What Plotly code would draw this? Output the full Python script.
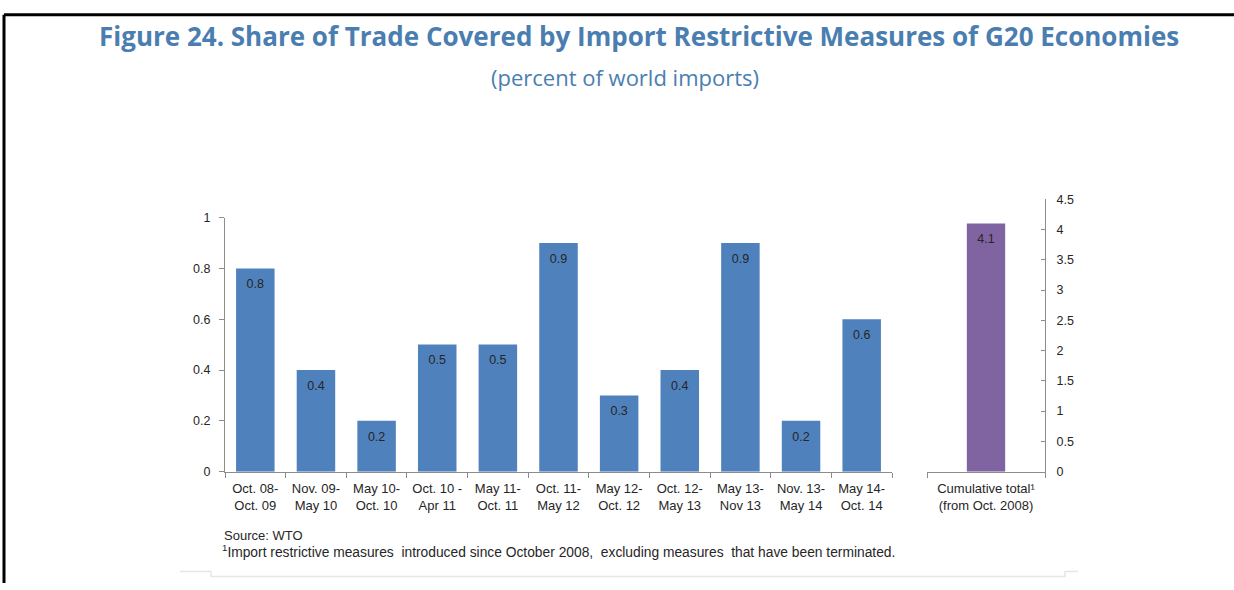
import plotly.graph_objects as go

W, H = 1234, 590

periods = ["Oct. 08-<br>Oct. 09", "Nov. 09-<br>May 10", "May 10-<br>Oct. 10", "Oct. 10 -<br>Apr 11",
           "May 11-<br>Oct. 11", "Oct. 11-<br>May 12", "May 12-<br>Oct. 12", "Oct. 12-<br>May 13",
           "May 13-<br>Nov 13", "Nov. 13-<br>May 14", "May 14-<br>Oct. 14"]
shares = [0.8, 0.4, 0.2, 0.5, 0.5, 0.9, 0.3, 0.4, 0.9, 0.2, 0.6]
cum_label = ["Cumulative total¹<br>(from Oct. 2008)"]
cum_value = [4.1]
left_ticks = [0, 0.2, 0.4, 0.6, 0.8, 1]
right_ticks = [0, 0.5, 1, 1.5, 2, 2.5, 3, 3.5, 4, 4.5]

def px(x):
    return x / W

def py(y):
    # compensate the slight vertical squeeze seen in the photographed page
    return 1 - ((y - 5.3) / 0.98) / H

BLUE = "#4f81bd"
PURPLE = "#8064a2"
TITLE = "#4a7eb0"
AX = "#8c8c8c"
TXT = "#262626"
FONT = "Liberation Sans, Arial, sans-serif"

fig = go.Figure()
fig.add_trace(go.Bar(
    x=periods, y=shares, marker=dict(color=BLUE, line=dict(width=0)), width=0.635,
    xaxis="x", yaxis="y", hoverinfo="x+y", showlegend=False))
fig.add_trace(go.Bar(
    x=cum_label, y=cum_value, marker=dict(color=PURPLE, line=dict(width=0)), width=0.325,
    xaxis="x2", yaxis="y2", hoverinfo="x+y", showlegend=False))
# value labels just below the top of each bar
fig.add_trace(go.Scatter(
    x=periods, y=shares, mode="markers+text", marker=dict(size=15, opacity=0),
    text=[f"{v:.1f}" for v in shares], textposition="bottom center",
    textfont=dict(family=FONT, size=12.5, color=TXT), xaxis="x", yaxis="y",
    hoverinfo="skip", showlegend=False, cliponaxis=False))
fig.add_trace(go.Scatter(
    x=cum_label, y=cum_value, mode="markers+text", marker=dict(size=15, opacity=0),
    text=[f"{v:.1f}" for v in cum_value], textposition="bottom center",
    textfont=dict(family=FONT, size=12.5, color=TXT), xaxis="x2", yaxis="y2",
    hoverinfo="skip", showlegend=False, cliponaxis=False))

ydom = [py(471.7), py(216.7)]
ydom2 = [py(471.7), py(198.3)]

common_x = dict(showline=True, linecolor=AX, linewidth=1, ticks="outside", tickson="boundaries",
                ticklen=5, tickcolor=AX, tickfont=dict(family=FONT, size=13, color=TXT),
                ticklabelstandoff=5,
                showgrid=False, zeroline=False, fixedrange=True, tickangle=0)

fig.update_layout(
    width=W, height=H, margin=dict(l=0, r=0, t=0, b=0),
    paper_bgcolor="white", plot_bgcolor="white",
    xaxis=dict(domain=[px(225), px(892)], anchor="y", range=[-0.5, len(periods) - 0.5], **common_x),
    xaxis2=dict(domain=[px(927), px(1045)], anchor="y2", range=[-0.5, 0.5], **common_x),
    yaxis=dict(domain=ydom, anchor="x", range=[0, 1], tickvals=left_ticks,
               ticktext=[f"{v:g}" for v in left_ticks],
               showline=True, linecolor=AX, linewidth=1, ticks="outside", ticklen=5, tickcolor=AX,
               ticklabelstandoff=6,
               tickfont=dict(family=FONT, size=12.5, color=TXT), showgrid=False, zeroline=False,
               fixedrange=True),
    yaxis2=dict(domain=ydom2, anchor="x2", side="right", range=[0, 4.5], tickvals=right_ticks,
                ticktext=[f"{v:g}" for v in right_ticks],
                showline=True, linecolor=AX, linewidth=1, ticks="inside", ticklen=4, tickcolor=AX,
                ticklabelstandoff=8,
                tickfont=dict(family=FONT, size=12.5, color=TXT), showgrid=False, zeroline=False,
                fixedrange=True),
)

fig.add_annotation(text="<b>Figure 24. Share of Trade Covered by Import Restrictive Measures of G20 Economies</b>",
                   x=px(639), y=py(34.6), xref="paper", yref="paper", showarrow=False,
                   xanchor="center", yanchor="middle",
                   font=dict(family="Open Sans, Noto Sans, sans-serif", size=26, color=TITLE))
fig.add_annotation(text="(percent of world imports)",
                   x=px(625), y=py(75.7), xref="paper", yref="paper", showarrow=False,
                   xanchor="center", yanchor="middle",
                   font=dict(family="Open Sans, Noto Sans, sans-serif", size=22, color=TITLE))
fig.add_annotation(text="Source: WTO", x=px(222), y=py(536), xref="paper", yref="paper",
                   showarrow=False, xanchor="left", yanchor="middle",
                   font=dict(family=FONT, size=13, color=TXT))
fig.add_annotation(text="<sup>1</sup>Import restrictive measures  introduced since October 2008,  excluding measures  that have been terminated.",
                   x=px(220), y=py(551), xref="paper", yref="paper",
                   showarrow=False, xanchor="left", yanchor="middle",
                   font=dict(family=FONT, size=13.8, color=TXT))

# frame lines
fig.add_shape(type="line", xref="paper", yref="paper", x0=px(4), x1=1, y0=py(13), y1=py(13),
              line=dict(color="black", width=3))
fig.add_shape(type="line", xref="paper", yref="paper", x0=px(4), x1=px(4), y0=py(13), y1=0,
              line=dict(color="black", width=3))
# faint bottom border of embedded chart
fig.add_shape(type="path", xref="paper", yref="paper",
              path=f"M {px(180)} {py(572)} L {px(211)} {py(572)} L {px(211)} {py(577)} "
                   f"L {px(1065)} {py(577)} L {px(1065)} {py(572)} L {px(1078)} {py(572)}",
              line=dict(color="#e6e6e6", width=1.5))

fig.write_html("out.html", config={"displayModeBar": False},
               post_script="document.body.style.margin='0';document.body.style.overflow='hidden';")
